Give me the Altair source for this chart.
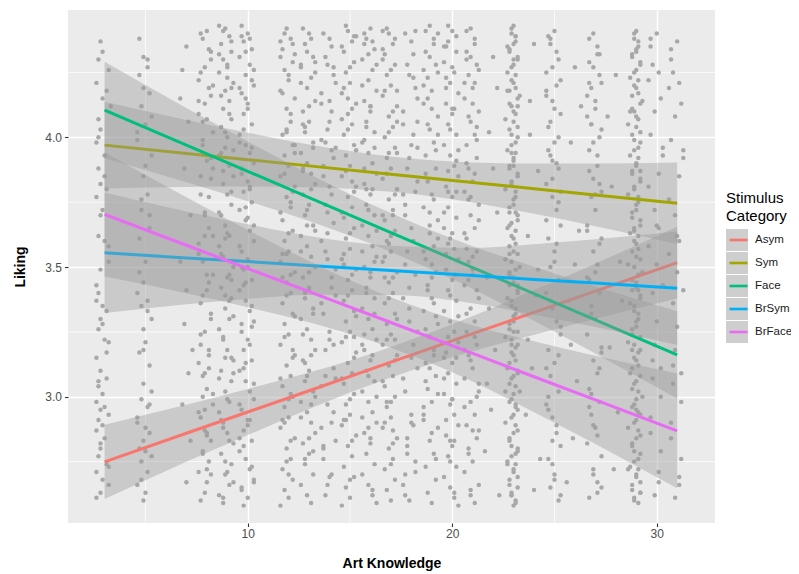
import altair as alt
import pandas as pd

# ---------------- data ----------------
cats = ["Asym", "Sym", "Face", "BrSym", "BrFace"]
colors = ["#F8766D", "#A3A500", "#00BF7D", "#00B0F6", "#E76BF3"]

fit_x = [3, 7, 10, 13, 17, 21, 24, 27, 31]
fit_asym = [2.749, 2.859, 2.941, 3.023, 3.133, 3.243, 3.325, 3.407, 3.517]
fit_sym = [3.970, 3.938, 3.914, 3.890, 3.858, 3.826, 3.802, 3.778, 3.746]
fit_face = [4.105, 3.970, 3.869, 3.768, 3.633, 3.498, 3.397, 3.296, 3.161]
fit_brsym = [3.555, 3.535, 3.521, 3.506, 3.487, 3.467, 3.452, 3.438, 3.418]
fit_brface = [3.703, 3.584, 3.494, 3.405, 3.286, 3.167, 3.077, 2.988, 2.868]

half_asym = [0.143, 0.110, 0.089, 0.070, 0.059, 0.068, 0.086, 0.106, 0.138]
half_sym = [0.167, 0.129, 0.104, 0.082, 0.068, 0.077, 0.097, 0.121, 0.157]
half_face = [0.186, 0.143, 0.115, 0.091, 0.075, 0.082, 0.104, 0.129, 0.168]
half_brsym = [0.232, 0.179, 0.144, 0.114, 0.095, 0.107, 0.136, 0.169, 0.219]
half_brface = [0.240, 0.185, 0.149, 0.118, 0.097, 0.108, 0.137, 0.170, 0.221]

x_ticks = [10, 20, 30]
y_ticks = [3.0, 3.5, 4.0]
x_minor = [5, 15, 25]
y_minor = [2.75, 3.25, 3.75, 4.25]

# jittered raw points: per Art Knowledge value, tokens "dYYY"
# d = horizontal jitter digit (0..8 -> -0.4..+0.4), YYY = liking x 100
pts_3 = ("2437 1430 6426 0421 3415 7412 1407 2403 0398 4393 1388 2382 5380 0377 3372 1362 4360 6358 2349 1340 0337 3335 5333 2330 1326 4322 6321 0315 2310 5307 1304 3301 0298 2295 6293 1291 3289 0287 4284 2280 1277 5274 0271 3268 6266 2263 "
         "3433 5418 1400 4385 2370 6352 0343 3328 5317 1306 4296 2282 6273 0261")
pts_5 = ("3431 5430 1424 6417 2412 4405 0402 7393 3385 5378 2372 6370 1361 4352 3344 0340 5337 2335 7330 3326 4321 1317 6312 3305 2299 5296 0292 4288 6286 3283 1280 7277 2275 5271 0266 4263 3260 6297 "
         "1438 5427 3419 7408 0399 4389 2376 6365 1348 5333 3318 7302 0290 4279 2268")
pts_7 = "4435 2426 5406 3388 6370 1352 4341 3328 5309 2297 6283 4267 1415 7318"
pts_8 = ("4441 2438 6430 1425 5419 3413 0409 7402 2397 4391 6384 1378 3371 5365 0359 2352 7347 4341 1336 6330 3325 5318 0313 2308 4303 7297 1292 3287 6283 2279 5275 0271 4267 3263 1260 6433 2406 5344 3295 7388 1320 4285 0422 6416 3362 5311 2300 4272 "
         "1440 5434 3427 7420 0414 4407 2399 6392 1385 5377 3370 7362 0355 4347 2339 6332 1324 5316 3309 7301 0294 4286 2278 6270")
pts_9 = ("3442 5439 1436 6433 2430 4428 0425 7421 3418 5414 2411 6407 1404 4400 3396 0393 5389 7385 2382 4378 6374 1370 3366 5362 0358 2354 7350 4346 1342 6338 3334 5330 0326 2322 4318 7314 1310 6306 3302 5298 0294 2290 4286 7282 1278 6274 3270 5266 0262 2259 4427 6419 1394 3361 5337 7309 2288 4271 0443 6345 3315 "
         "2441 6437 0432 4423 1416 5409 3402 7395 2387 6379 0371 4363 1355 5347 3339 7331 2323 6315 0307 4299 1291 5283 3275 7267 2261")
pts_10 = ("4440 2437 6434 0431 5428 3424 7420 1417 4413 2409 6405 0401 3397 5394 7390 1386 4383 2379 6375 0372 3368 5364 7360 1356 4353 2349 6345 0341 3337 5333 7329 1325 4322 2318 6314 0310 3306 5302 7299 1295 4291 2287 6283 0279 3276 5272 7268 1264 4261 2258 6422 0398 3344 5291 7267 1439 4369 2311 6327 0284 3415 5381 1350 "
          "1443 5438 3433 7426 0419 4411 2403 6396 1388 5380 3373 7366 0358 4350 2343 6335 1328 5320 3313 7305 0297 4289 2281 6273 1265")
pts_12 = ("3442 5438 1434 6429 2426 4422 0418 7415 3411 5406 1401 6397 2393 4389 0385 7381 3377 5373 1368 6364 2360 4356 0352 7348 3344 5340 1336 6332 2328 4324 0320 7316 3312 5308 1304 6300 2296 4292 0288 7284 3280 5276 1272 6268 2264 4261 0258 7432 3403 5375 1346 6318 2290 4270 0437 7397 3355 5301 "
          "2440 6436 0431 4424 1417 5409 3402 7394 2386 6379 0371 4363 1355 5347 3339 7331 2323 6315 0307 4299 1291 5283 3275")
pts_13 = ("4440 2436 6431 0427 5423 3419 7414 1410 4406 2402 6398 0394 3390 5386 7382 1378 4374 2370 6366 0362 3358 5354 7350 1346 4342 2338 6334 0330 3326 5322 7318 1314 4310 2306 6302 0298 3294 5290 7286 1282 4278 2274 6270 0266 3262 5259 7425 1387 4341 2313 6279 0428 3366 5297 1405 "
          "1442 5438 3433 7429 0421 4412 2404 6396 1388 5380 3372 7364 0356 4348 2340 6332 1324 5316 3308 7300 0292 4284 2276")
pts_14 = ("4438 2431 6424 0417 5410 3403 7396 1389 4381 2374 6367 0360 3353 5346 7339 1332 4325 2318 6311 0304 3297 5290 7283 1276 4269 2262 6427 0399 3371 5342 7307 1280 4414 2356 6320 0288 3266 5395 "
          "1440 5435 3428 7421 0413 4406 2398 6392 1385 5378 3363 7349 0336 4322 2308 6294 1281 5270")
pts_15 = ("3441 5437 1433 6429 2425 4421 0417 7413 3409 5405 1401 6397 2393 4389 0385 7381 3377 5373 1369 6365 2361 4357 0353 7349 3345 5341 1337 6333 2329 4325 0321 7317 3313 5309 1305 6301 2297 4293 0289 7285 3281 5277 1273 6269 2265 4261 0258 7439 3415 5383 1351 6323 2291 4268 0407 "
          "2443 6439 0435 4427 1419 5411 3403 7395 2387 6379 0371 4363 1355 5347 3339 7331 2323 6315 0307 4299 1291 5283")
pts_16 = ("4442 2438 6434 0430 5426 3422 7418 1414 4410 2406 6402 0398 3394 5390 7386 1382 4378 2374 6370 0366 3362 5358 7354 1350 4346 2342 6338 0334 3330 5326 7322 1318 4314 2310 6306 0302 3298 5294 7290 1286 4282 2278 6274 0270 3266 5262 7259 1436 4412 2380 6352 0320 3288 5264 1399 "
          "1440 5437 3432 7428 0420 4412 2404 6396 1388 5380 3372 7364 0356 4348 2340 6332 1324 5316 3308 7300 0292 4284")
pts_17 = ("3440 5436 1432 6428 2424 4420 0416 7412 3408 5404 1400 6396 2392 4388 0384 7380 3376 5372 1368 6364 2360 4356 0352 7348 3344 5340 1336 6332 2328 4324 0320 7316 3312 5308 1304 6300 2296 4292 0288 7284 3280 5276 1272 6268 2264 4260 0430 7418 3394 5370 1346 6322 2298 4274 0441 7406 3359 5287 "
          "2442 6438 0434 4426 1418 5410 3402 7394 2386 6378 0370 4362 1354 5346 3338 7330 2322 6314 0306 4298 1290 5282")
pts_18 = ("4437 2428 6419 0410 5401 3392 7383 1374 4365 2356 6347 0338 3329 5320 7311 1302 4293 2284 6275 0266 3260 5423 7396 1351 4315 2278 6441 0378 3334 5289 7406 1270 "
          "1440 5432 3424 7415 0405 4397 2388 6379 1370 5360 3342 7325 0307 4290 2281 6271 1262")
pts_19 = ("3443 5438 1433 6428 2423 4418 0413 7408 3403 5398 1393 6388 2383 4378 0373 7368 3363 5358 1353 6348 2343 4338 0333 7328 3323 5318 1313 6308 2303 4298 0293 7288 3283 5278 1273 6268 2263 4259 0426 7401 3366 5336 1306 6276 2415 4351 0291 7440 "
          "1441 5436 3431 7425 0420 4411 2405 6395 1386 5376 3371 7361 0356 4346 2341 6331 1326 5316 3311 7301 0296 4286")
pts_20 = ("4441 2437 6433 0429 5425 3421 7417 1413 4409 2405 6401 0397 3393 5389 7385 1381 4377 2373 6369 0365 3361 5357 7353 1349 4345 2341 6337 0333 3329 5325 7321 1317 4313 2309 6305 0301 3297 5293 7289 1285 4281 2277 6273 0269 3265 5261 7258 1435 4411 2379 6347 0315 3283 5263 1423 6391 2359 4299 "
          "2443 6439 0435 4427 1419 5411 3403 7395 2387 6379 0371 4363 1355 5347 3339 7331 2323 6315 0307 4299 1291 5283 3275")
pts_21 = ("3442 5438 1433 6428 2424 4419 0415 7410 3406 5401 1397 6392 2388 4383 0379 7374 3370 5365 1361 6356 2352 4347 0343 7338 3334 5329 1325 6320 2316 4311 0307 7302 3298 5293 1289 6284 2280 4275 0271 7266 3262 5259 1430 6404 2376 4349 0318 7287 3264 5421 1357 6300 "
          "1441 5436 3431 7426 0421 4413 2408 6399 1390 5386 3377 7368 0363 4354 2345 6341 1332 5323 3314 7305 0296 4287 2278")
pts_22 = "4431 2402 6371 1346 5318 3295 0279 7262 4388 2334 6419 1305"
pts_23 = ("4443 3440 5437 2434 6431 4428 1425 3422 5419 7416 2413 4410 0407 6404 3401 5398 1395 4392 2389 6386 3383 0380 5377 4374 2371 6368 1365 3362 5359 4356 0353 7350 2347 4344 6341 1338 3335 5332 4329 2326 0323 6320 3317 5314 1311 4308 2305 7302 3299 5296 4293 0290 6287 2284 3281 5278 1275 4272 6269 2266 3263 5260 4258 1435 6412 3394 5371 2348 4325 0302 6279 3262 5439 1418 4389 2366 6343 3320 5297 1274 4430 2355 6309 "
          "3442 5439 4436 2433 6430 3427 5424 4421 2418 6415 3412 5409 4406 2403 6400 3397 5394 4391 2388 6385 3382 5379 4376 2373 6370 3367 5364 4361 2358 6355 3352 5349 4346 2343 6340 3337 5334 4331 2328 6325 3322 5319 4316 2313 6310 3307 5304 4301 2298 6295 3292 5289 4286 2283 6280 3277 5274 4271 2268 6265 3262 5259")
pts_24 = "4436 2414 6387 1362 5339 3311 0293 7276 4264 2401 6349 1322"
pts_25 = ("4441 2436 6430 0425 5420 3414 7409 1404 4398 2393 6388 0382 3377 5372 7366 1361 4356 2350 6345 0340 3334 5329 7324 1318 4313 2308 6302 0297 3292 5286 7281 1276 4270 2265 6260 0418 3391 5359 7327 1295 4268 2438 6375 0311 3283 "
          "1439 5433 3427 7422 0416 4411 2406 6400 1395 5390 3384 7379 0368 4352 2337 6316 1300 5289 3274 7262")
pts_26 = "4427 2398 6364 1337 5306 3284 0267 7412 4351 2320"
pts_27 = ("3440 5435 1429 6424 2419 4414 0408 7403 3398 5393 1387 6382 2377 4372 0366 7361 3356 5351 1345 6340 2335 4330 0324 7319 3314 5309 1303 6298 2293 4288 0282 7277 3272 5267 1261 6432 2405 4378 0346 7317 3289 5263 1421 6359 2301 "
          "1438 5432 3427 7421 0416 4411 2405 6400 1395 5389 3384 7379 0364 4348 2332 6311 1296 5285 3270 7265")
pts_28 = "4424 2381 6352 1319 5294 3272 0408 7337"
pts_29 = ("4441 3438 5435 2432 6429 4426 1423 3420 5417 7414 2411 4408 0405 6402 3399 5396 1393 4390 2387 6384 3381 0378 5375 4372 2369 6366 1363 3360 5357 4354 0351 7348 2345 4342 6339 1336 3333 5330 4327 2324 0321 6318 3315 5312 1309 4306 2303 7300 3297 5294 4291 0288 6285 2282 3279 5276 1273 4270 6267 2264 3261 5259 4433 1410 6387 3364 5341 2318 4295 0272 6263 "
          "3440 5437 4434 2431 6428 3425 5422 4419 2416 6413 3410 5407 4404 2401 6398 3395 5392 4389 2386 6383 3380 5377 4374 2371 6368 3365 5362 4359 2356 6353 3350 5347 4344 2341 6338 3335 5332 4329 2326 6323 3320 5317 4314 2311 6308 3305 5302 4299 2296 6293 3290 5287 4284 2281 6278 3275 5272 4269 2266 6263 3260")
pts_30 = ("4440 2428 6415 1401 5386 3372 0358 7343 4329 2314 6300 1286 5271 3262 0422 7393 4351 2307 6279 1435 5365 3320 "
          "1438 5425 3410 7396 0381 4366 2340 6311 1292 5267")
pts_31 = ("4437 2425 6413 1399 5385 3370 0355 7341 4327 2312 6298 1284 5269 3261 0419 7392 4348 2305 6276 1430 5360 3318 "
          "1434 5421 3408 7395 0376 4362 2336 6309 1290 5266")

point_columns = {
    3: pts_3, 5: pts_5, 7: pts_7, 8: pts_8, 9: pts_9, 10: pts_10, 12: pts_12,
    13: pts_13, 14: pts_14, 15: pts_15, 16: pts_16, 17: pts_17, 18: pts_18,
    19: pts_19, 20: pts_20, 21: pts_21, 22: pts_22, 23: pts_23, 24: pts_24,
    25: pts_25, 26: pts_26, 27: pts_27, 28: pts_28, 29: pts_29, 30: pts_30,
    31: pts_31,
}

# ---------------- tables ----------------
rows = []
for xv, s in point_columns.items():
    for tok in s.split():
        rows.append({"x": xv + (int(tok[0]) - 4) / 10.0, "y": int(tok[1:]) / 100.0})
points = pd.DataFrame(rows)

fits = {"Asym": fit_asym, "Sym": fit_sym, "Face": fit_face, "BrSym": fit_brsym, "BrFace": fit_brface}
halves = {"Asym": half_asym, "Sym": half_sym, "Face": half_face, "BrSym": half_brsym, "BrFace": half_brface}
brows = []
for c in cats:
    for xv, f, h in zip(fit_x, fits[c], halves[c]):
        brows.append({"cat": c, "x": xv, "fit": f, "lo": f - h, "hi": f + h})
bands = pd.DataFrame(brows)

# ---------------- encodings ----------------
FONT = "Liberation Sans"
xscale = alt.Scale(domain=[1.21, 32.85], nice=False, zero=False)
yscale = alt.Scale(domain=[2.513, 4.491], nice=False, zero=False)
xaxis = alt.Axis(values=x_ticks, title="Art Knowledge", titlePadding=17, labelPadding=2)
yaxis = alt.Axis(values=y_ticks, format=".1f", title="Liking", titlePadding=17, labelPadding=3)


def X(f):
    return alt.X(f, type="quantitative", scale=xscale, axis=xaxis)


def Y(f):
    return alt.Y(f, type="quantitative", scale=yscale, axis=yaxis, stack=False)


color_scale = alt.Scale(domain=cats, range=colors)
fill_scale = alt.Scale(domain=cats[::-1], range=["#999999"] * 5)

common_legend = dict(
    orient="none", legendX=658, legendY=181, direction="vertical",
    titleFontSize=15, titleLineHeight=18, titleFontWeight="normal",
    titleColor="black", titlePadding=5, titleFont=FONT,
    labelFontSize=11.5, labelColor="#1A1A1A", labelFont=FONT, labelOffset=4,
    symbolSize=484, clipHeight=22, rowPadding=1, padding=0,
)
color_legend = alt.Legend(
    title=["Stimulus", "Category"],
    symbolType="M-0.82,0H0.82", symbolStrokeWidth=2.6, zindex=2, **common_legend
)
fill_legend = alt.Legend(
    title=[" ", " "], labelExpr="''",
    symbolType="square", symbolStrokeWidth=0, symbolOpacity=0.48,
    zindex=1, **common_legend
)

layers = []
layers.append(
    alt.Chart(pd.DataFrame({"x": x_minor})).mark_rule(color="white", strokeWidth=0.7).encode(x=X("x"))
)
layers.append(
    alt.Chart(pd.DataFrame({"y": y_minor})).mark_rule(color="white", strokeWidth=0.7).encode(y=Y("y"))
)
layers.append(
    alt.Chart(points).mark_circle(size=20, color="#A8A8A8", opacity=1, clip=True).encode(x=X("x"), y=Y("y"))
)
for c in cats:
    base = alt.Chart(bands).transform_filter(alt.datum.cat == c)
    layers.append(
        base.mark_area(opacity=0.4, interpolate="monotone").encode(
            x=X("x"), y=Y("lo"), y2=alt.Y2("hi"),
            fill=alt.Fill("cat:N", scale=fill_scale, legend=fill_legend),
        )
    )
    layers.append(
        base.mark_line(strokeWidth=3).encode(
            x=X("x"), y=Y("fit"),
            color=alt.Color("cat:N", scale=color_scale, legend=color_legend),
        )
    )

chart = (
    alt.layer(*layers)
    .properties(
        width=647, height=513,
        autosize=alt.AutoSizeParams(type="none"),
        padding={"left": 60, "top": 2, "right": 76, "bottom": 50},
    )
    .configure(font=FONT)
    .configure_view(fill="#EBEBEB", strokeWidth=0)
    .configure_axis(
        grid=True, gridColor="white", gridWidth=1.4, domain=False,
        tickColor="#333333", tickSize=3.5, tickWidth=1.1,
        labelColor="#4D4D4D", labelFontSize=12, labelFont=FONT,
        titleFontSize=14, titleFontWeight="bold", titleColor="black", titleFont=FONT,
    )
)

chart.save("out.html", embed_options={"renderer": "svg", "actions": False})
